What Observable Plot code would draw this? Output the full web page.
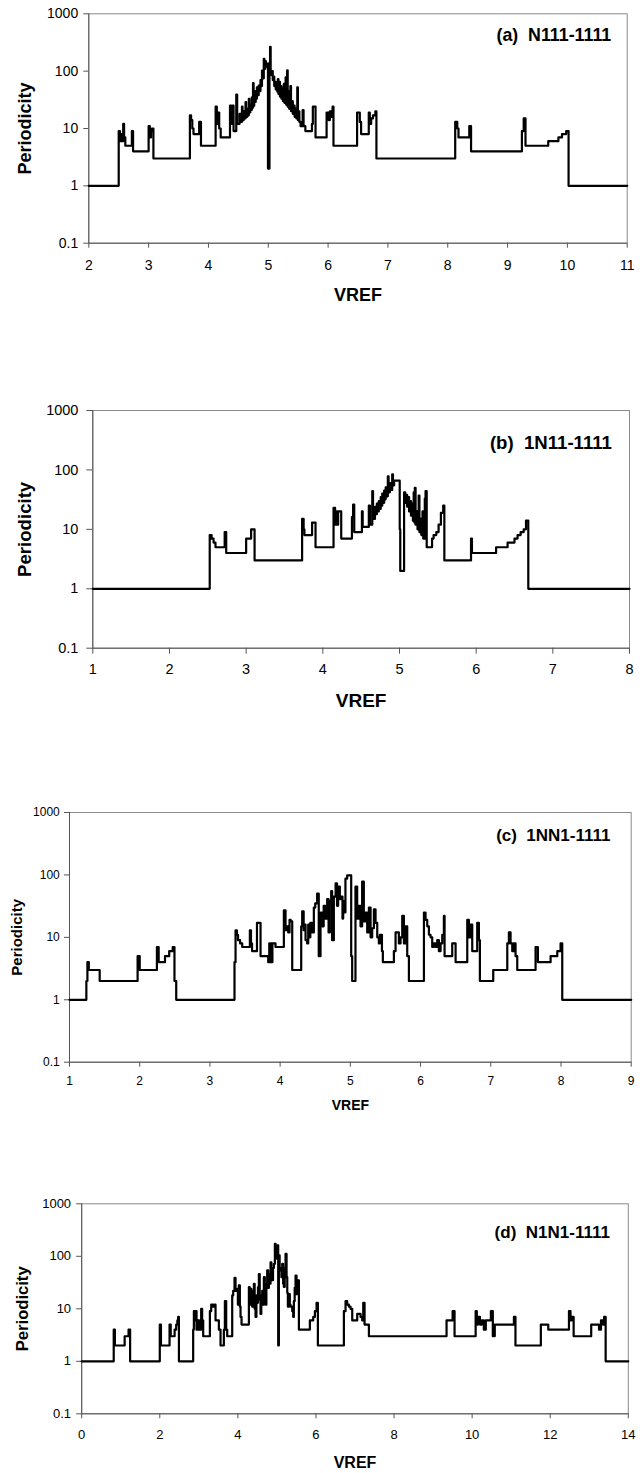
<!DOCTYPE html>
<html><head><meta charset="utf-8">
<script src="https://cdn.jsdelivr.net/npm/d3@7"></script>
<script src="https://cdn.jsdelivr.net/npm/@observablehq/plot@0.6"></script>
<style>
body{margin:0;background:#fff;}
#root{position:relative;width:644px;height:1473px;background:#fff;}
.panel{position:absolute;left:0;}
</style>
</head><body><div id="root"></div>
<script>
// ---- data: [VREF, Periodicity] step points ----
const seriesA = [[2,1],[2.5,9],[2.52,6],[2.54,8],[2.555,6],[2.575,12],[2.59,7],[2.61,5],[2.72,9],[2.74,4],
[3.0,11],[3.02,7],[3.04,9],[3.055,10],[3.08,3],
[3.69,17],[3.71,14],[3.73,10],[3.75,8],[3.845,13],[3.875,5],
[4.12,24],[4.14,12],[4.16,19],[4.18,10],[4.205,7],
[4.36,25],[4.38,12],[4.40,25],[4.42,9],[4.465,39],[4.48,12],
[4.52,18],[4.535,13],[4.56,24],[4.57,14],[4.59,20],[4.60,15],[4.62,29],[4.63,16],[4.65,22],[4.66,17],[4.675,33],[4.685,19],[4.70,26],[4.71,21],[4.725,35],[4.735,23],[4.745,62],[4.755,25],[4.765,40],[4.775,29],[4.79,45],[4.80,33],[4.81,52],[4.82,38],[4.84,56],[4.85,45],[4.87,70],[4.88,55],[4.895,102],[4.905,75],[4.925,164],[4.935,110],[4.95,150],[4.96,120],[4.975,135],
[4.995,2],[5.02,140],[5.03,265],[5.04,100],[5.055,85],[5.065,100],[5.075,70],[5.09,80],[5.10,55],[5.115,65],[5.125,48],[5.14,62],[5.15,44],[5.16,73],[5.17,40],[5.185,65],[5.195,36],[5.21,55],[5.22,33],[5.235,50],[5.245,30],[5.26,60],[5.27,28],[5.29,78],[5.30,26],[5.315,103],[5.325,24],[5.34,45],[5.35,22],[5.37,55],[5.38,20],[5.40,30],[5.41,18],[5.43,25],[5.44,16],[5.46,22],[5.47,15],[5.485,52],[5.495,14],[5.51,20],[5.52,13],[5.54,11],[5.575,21],[5.59,11],[5.62,9],[5.73,12],[5.745,24],[5.79,7],
[5.975,19],[6.01,14],[6.03,20],[6.055,16],[6.075,24],[6.09,5],
[6.485,19],[6.53,13],[6.552,8],[6.68,19],[6.697,12],[6.72,15],[6.75,17],[6.79,20],[6.808,3],
[8.125,13],[8.16,10],[8.18,7],[8.36,11],[8.39,4],
[9.24,9],[9.27,15],[9.30,5],[9.68,6],[9.85,7],[9.91,8],[9.98,9],[10.02,1],[11,1]];

const seriesB = [[1,1],[2.525,8],[2.55,7],[2.575,6],[2.6,5],[2.72,9],[2.74,4],[3.0,7],[3.065,10],[3.11,3],
[3.73,15],[3.75,10],[3.76,8],[3.86,13],[3.905,5],
[4.14,23],[4.16,12],[4.17,20],[4.185,12],[4.2,20],[4.24,7],
[4.38,16],[4.395,26],[4.41,9],[4.51,20],[4.52,11],[4.60,25],[4.615,12],[4.645,44],[4.655,15],
[4.68,24],[4.69,18],[4.705,27],[4.715,20],[4.73,30],[4.74,22],[4.755,35],[4.765,25],[4.775,40],[4.785,28],[4.80,45],[4.81,32],[4.82,51],[4.83,36],[4.848,78],[4.858,42],[4.875,60],[4.885,46],[4.905,84],[4.915,55],[4.93,66],
[5.003,10],[5.01,2],[5.06,42],[5.075,28],[5.09,38],[5.10,24],[5.115,35],[5.125,20],[5.14,30],[5.15,17],[5.165,27],[5.175,14],[5.185,42],[5.195,13],[5.20,50],[5.21,12],[5.225,20],[5.235,10],[5.25,37],[5.26,9],[5.275,15],[5.285,8],[5.30,20],[5.31,7],[5.33,33],[5.34,44],[5.355,5],
[5.425,7],[5.445,8],[5.48,9],[5.51,12],[5.54,19],[5.57,25],[5.585,3],
[5.933,7],[5.945,4],[6.26,5],[6.41,6],[6.5,7],[6.54,8],[6.58,9],[6.62,10],[6.65,14],[6.68,1],[8,1]];

const seriesC = [[1,1],[1.24,2],[1.255,4],[1.275,3],[1.43,2],[1.97,5],[2.0,3],[2.245,7],[2.27,4],[2.36,5],[2.42,6],[2.47,7],[2.495,2],[2.52,1],
[3.35,4],[3.365,13],[3.385,11],[3.40,9],[3.43,8],[3.46,7],[3.569,13],[3.585,8],[3.60,6],[3.67,17],[3.721,5],[3.83,4],[3.845,8],[3.855,4],[3.87,8],[3.88,4],[3.89,8],[3.934,7],
[4.053,27],[4.077,13],[4.10,15],[4.115,12],[4.134,19],[4.15,18],[4.172,3],
[4.30,15],[4.314,26],[4.335,13],[4.35,16],[4.362,9],[4.385,8],[4.40,16],[4.41,10],[4.43,17],[4.455,12],[4.48,30],[4.50,35],[4.527,50],[4.55,5],[4.575,25],[4.598,15],[4.62,32],[4.645,20],[4.67,41],[4.69,12],[4.708,38],[4.727,55],[4.74,9],[4.765,45],[4.79,73],[4.81,32],[4.826,65],[4.85,41],[4.87,45],[4.888,20],[4.898,38],[4.917,25],[4.93,87],[4.955,98],
[5.012,5],[5.026,2],[5.073,65],[5.097,20],[5.12,32],[5.145,15],[5.168,78],[5.192,18],[5.215,25],[5.24,12],[5.264,30],[5.288,10],[5.311,14],[5.335,28],[5.359,17],[5.383,10],[5.406,8],[5.42,11],[5.45,6],[5.463,4],
[5.62,6],[5.644,12],[5.691,8],[5.715,10],[5.739,22],[5.763,8],[5.786,15],[5.81,5],[5.834,2],
[6.048,25],[6.071,19],[6.095,15],[6.119,11],[6.142,10],[6.166,7],[6.19,8],[6.214,7],[6.237,9],[6.261,6],[6.285,8],[6.309,11],[6.332,22],[6.342,5],[6.451,8],[6.499,4],
[6.665,19],[6.688,10],[6.712,16],[6.736,6],[6.807,17],[6.831,9],[6.845,2],[7.035,3],
[7.235,8],[7.258,12],[7.282,8],[7.306,6],[7.329,8],[7.353,5],[7.377,3],[7.638,7],[7.671,4],[7.852,5],[7.947,6],[7.994,8],[8.018,1],[9,1]];

const seriesD = [[0,1],[0.82,4],[0.85,2],[1.1,3],[1.2,4],[1.24,1],[2.0,5],[2.03,2],[2.25,5],[2.28,3],[2.38,4],[2.42,5],[2.45,6],[2.47,7],[2.49,1],
[2.855,4],[2.873,9],[2.89,6],[2.915,9],[2.941,4],[2.975,6],[3.009,4],[3.06,10],[3.085,6],[3.112,3],
[3.283,9],[3.317,12],[3.351,11],[3.385,12],[3.428,6],[3.513,4],[3.556,2],[3.641,4],[3.667,14],[3.701,4],[3.727,3],
[3.855,18],[3.88,22],[3.914,39],[3.94,22],[3.983,24],[4.0,12],[4.025,28],[4.051,11],[4.068,7],[4.094,5],
[4.282,26],[4.303,12],[4.324,24],[4.345,12],[4.367,11],[4.39,22],[4.41,30],[4.43,10],[4.452,7],[4.475,18],[4.495,13],[4.515,26],[4.538,46],[4.56,15],[4.58,8],[4.60,18],[4.623,22],[4.645,12],[4.666,40],[4.69,20],[4.709,12],[4.73,30],[4.751,54],[4.775,25],[4.794,46],[4.815,30],[4.837,77],[4.858,40],[4.879,35],[4.90,60],[4.922,72],[4.948,173],[4.965,90],[4.982,129],[5.007,161],[5.033,2],[5.05,104],[5.07,60],[5.093,54],[5.115,40],[5.136,72],[5.158,30],[5.178,26],[5.20,60],[5.221,111],[5.247,40],[5.265,20],[5.281,11],[5.306,19],[5.33,12],[5.349,11],[5.392,9],[5.417,7],[5.434,14],[5.455,25],[5.477,43],[5.503,19],[5.537,35],[5.563,4],
[5.844,6],[5.93,7],[5.973,9],[6.015,13],[6.049,2],
[6.715,9],[6.758,14],[6.8,12],[6.844,11],[6.886,10],[6.929,6],[7.057,8],[7.142,7],[7.185,6],[7.211,13],[7.245,5],[7.313,5],[7.356,3],
[9.345,6],[9.5,9],[9.55,3],[10.09,9],[10.12,5],[10.15,7],[10.2,5],[10.25,6],[10.3,4],[10.35,6],[10.48,9],[10.53,3],[10.58,5],[11.07,7],[11.11,2],[11.76,5],[11.95,4],[12.48,9],[12.52,6],[12.55,7],[12.6,3],[13.05,5],[13.25,4],[13.3,6],[13.35,5],[13.38,7],[13.42,1],[14,1]];

const titles = ["(a)\u00a0 N111-1111", "(b)\u00a0 1N11-1111", "(c)\u00a0 1NN1-1111", "(d)\u00a0 N1N1-1111"];
const xTicksA = [2,3,4,5,6,7,8,9,10,11];
const xTicksB = [1,2,3,4,5,6,7,8];
const xTicksC = [1,2,3,4,5,6,7,8,9];
const xTicksD = [0,2,4,6,8,10,12,14];
const yTicks = [0.1,1,10,100,1000];
const xLabel = "VREF";
const yLabel = "Periodicity";

// ---- layout (positions / styles) ----
const layouts = [
  {data: seriesA, title: titles[0], xTicks: xTicksA, top: 0, height: 310, ml: 88.3, mr: 17.3, mt: 13.3, mb: 67.3,
   tickFs: 14, tsX: 5, padX: 11.7, tsY: 5, padY: 5.6, yFs: 18, yDx: -63.3, xFs: 18, xDy: 52.3, tFs: 17.8, tDx: -16, tDy: 21.7},
  {data: seriesB, title: titles[1], xTicks: xTicksB, top: 380, height: 330, ml: 92.3, mr: 15, mt: 30, mb: 62.3,
   tickFs: 14.5, tsX: 6, padX: 10, tsY: 6, padY: 8.4, yFs: 18.6, yDx: -67.7, xFs: 19, xDy: 52.3, tFs: 18.6, tDx: -17.6, tDy: 33},
  {data: seriesC, title: titles[2], xTicks: xTicksC, top: 790, height: 330, ml: 69, mr: 13.3, mt: 22, mb: 58.3,
   tickFs: 12, tsX: 5, padX: 9, tsY: 5, padY: 4.7, yFs: 15, yDx: -52.3, xFs: 14, xDy: 43.3, tFs: 17, tDx: -20.7, tDy: 23},
  {data: seriesD, title: titles[3], xTicks: xTicksD, top: 1180, height: 293, ml: 81.2, mr: 16.2, mt: 23.3, mb: 59.7,
   tickFs: 13, tsX: 5, padX: 11, tsY: 5, padY: 5.6, yFs: 16.6, yDx: -58.6, xFs: 16, xDy: 48.7, tFs: 17, tDx: -18.4, tDy: 28.4}
];

const font = "'Liberation Sans', Arial, Helvetica, sans-serif";
const root = document.getElementById("root");

for (const L of layouts) {
  const xDomain = [L.xTicks[0], L.xTicks[L.xTicks.length - 1]];
  const chart = Plot.plot({
    width: 644,
    height: L.height,
    marginLeft: L.ml, marginRight: L.mr, marginTop: L.mt, marginBottom: L.mb,
    style: {fontFamily: font, background: "transparent", color: "#000", overflow: "visible"},
    x: {domain: xDomain},
    y: {type: "log", domain: [0.1, 1000]},
    marks: [
      Plot.frame({stroke: "#8a8a8a", strokeWidth: 1}),
      Plot.ruleX([xDomain[0]], {stroke: "#555"}),
      Plot.ruleY([0.1], {stroke: "#555"}),
      Plot.axisY(yTicks, {tickFormat: d => String(d), tickSize: L.tsY, tickPadding: L.padY, fontSize: L.tickFs, stroke: "#555", fill: "#000", label: null}),
      Plot.axisX(L.xTicks, {tickFormat: d => String(d), tickSize: L.tsX, tickPadding: L.padX, fontSize: L.tickFs, stroke: "#555", fill: "#000", label: null}),
      Plot.line(L.data, {x: d => d[0], y: d => d[1], curve: "step-after", stroke: "#000", strokeWidth: 2.2}),
      Plot.text([L.title], {frameAnchor: "top-right", dx: L.tDx, dy: L.tDy, textAnchor: "end", lineAnchor: "middle", fontWeight: "bold", fontSize: L.tFs, fill: "#000"}),
      Plot.text([yLabel], {frameAnchor: "left", dx: L.yDx, rotate: -90, textAnchor: "middle", lineAnchor: "middle", fontWeight: "bold", fontSize: L.yFs, fill: "#000"}),
      Plot.text([xLabel], {frameAnchor: "bottom", dy: L.xDy, textAnchor: "middle", lineAnchor: "middle", fontWeight: "bold", fontSize: L.xFs, fill: "#000"})
    ]
  });
  const div = document.createElement("div");
  div.className = "panel";
  div.style.top = L.top + "px";
  div.appendChild(chart);
  root.appendChild(div);
}
</script>
</body></html>
